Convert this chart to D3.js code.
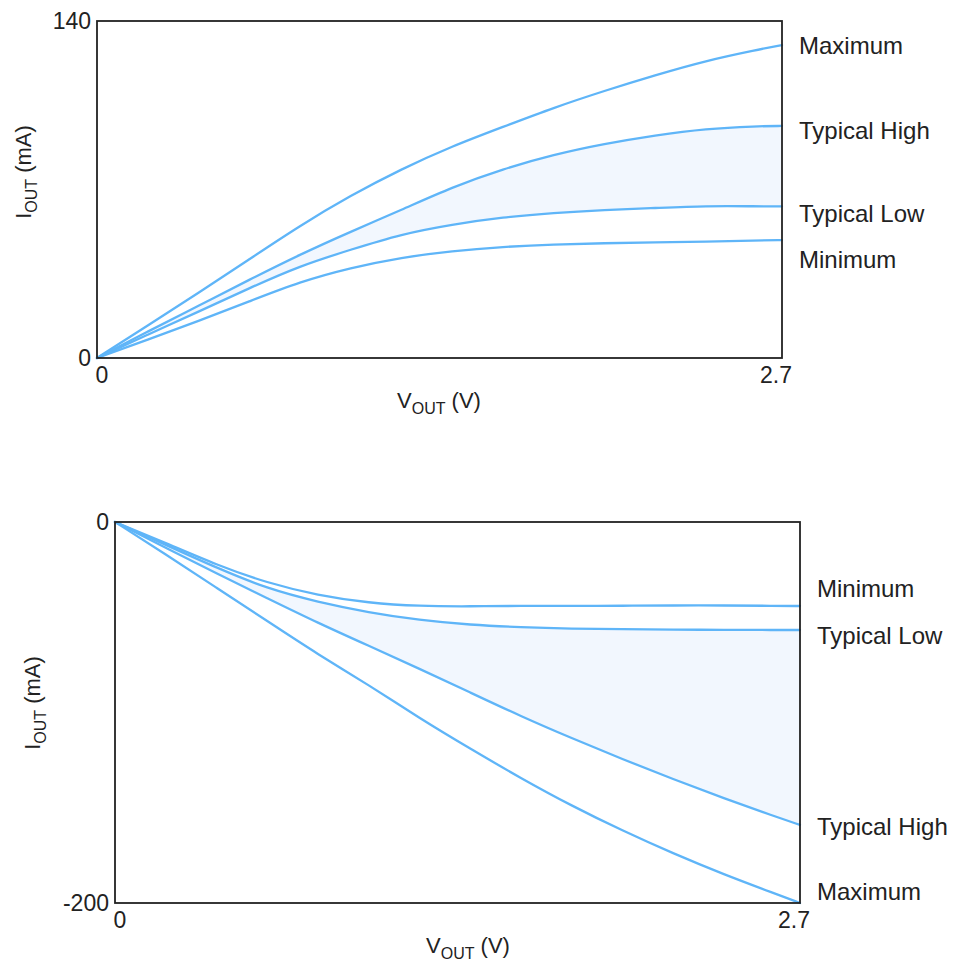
<!DOCTYPE html>
<html>
<head>
<meta charset="utf-8">
<title>IOUT vs VOUT</title>
<script src="https://d3js.org/d3.v7.min.js"></script>
<style>
    body { margin: 0; background: #fff; }
    svg text { font-family: "Liberation Sans", Arial, sans-serif; fill: #222; }
</style>
</head>
<body>
<svg id="chart" width="955" height="966"></svg>
<script>
    // sample voltages (V), shared by all curves
    const vout = [0, 0.2, 0.4, 0.6, 0.8, 1.0, 1.2, 1.4, 1.6, 1.8, 2.0, 2.2, 2.4, 2.6, 2.7];

    // source current (mA), top panel
    const srcMaximum     = [0, 13.5, 27, 41, 55, 67.5, 78.5, 88, 96, 104, 111, 117.5, 123.5, 128, 130];
    const srcTypicalHigh = [0, 11, 21.7, 32.5, 43, 52.5, 61.5, 71, 78.5, 84.5, 89, 92.5, 95.3, 96.3, 96.4];
    const srcTypicalLow  = [0, 9.7, 19.2, 29, 38.3, 45, 51.5, 55.5, 58.5, 60.3, 61.5, 62.3, 63.2, 63, 63];
    const srcMinimum     = [0, 7.6, 15.4, 23.5, 31.7, 37.5, 41.8, 44.5, 46.2, 47.2, 47.7, 48, 48.3, 48.8, 49];

    // sink current (mA), bottom panel
    const snkMaximum     = [0, -17, -34.5, -52, -69.5, -85.5, -103, -119, -134.5, -149, -162, -174, -185, -195, -200];
    const snkTypicalHigh = [0, -13.5, -27, -40, -53, -65, -77, -89.5, -102, -113.5, -124.5, -135, -145, -154.5, -159];
    const snkTypicalLow  = [0, -12, -24, -35, -42, -47.5, -51.5, -54, -55.3, -56, -56.3, -56.5, -56.6, -56.7, -56.7];
    const snkMinimum     = [0, -11, -22.5, -32, -38.5, -42.5, -44.2, -44.3, -44, -44, -44, -43.8, -43.8, -44, -44.1];

    const seriesNames = ["Maximum", "Typical High", "Typical Low", "Minimum"];
    // where each curve name sits on the right (mA), same order as seriesNames
    const srcLabelAt = [129.8, 94.3, 60, 40.7];
    const snkLabelAt = [-194, -160, -59.8, -34.9];

    const xTicks = [0, 2.7];
    const lineColor = "#5fb5f8";
    const bandColor = "#f2f7fe";

    const svg = d3.select("#chart");

    function drawPanel(p) {
        const x = d3.scaleLinear().domain([0, 2.7]).range([p.left, p.right]);
        const y = d3.scaleLinear().domain(p.yDomain).range([p.bottom, p.top]);
        const g = svg.append("g");

        const line = d3.line().x(d => x(d[0])).y(d => y(d[1])).curve(d3.curveBasis);
        const pts = arr => vout.map((v, i) => [v, arr[i]]);

        // shaded band between typical high and typical low
        const area = d3.area()
            .x((d, i) => x(vout[i]))
            .y0(d => y(d[0]))
            .y1(d => y(d[1]))
            .curve(d3.curveBasis);
        g.append("path")
            .datum(vout.map((v, i) => [p.series[1][i], p.series[2][i]]))
            .attr("d", area)
            .attr("fill", bandColor);

        p.series.forEach(s => {
            g.append("path")
                .datum(pts(s))
                .attr("d", line)
                .attr("fill", "none")
                .attr("stroke", lineColor)
                .attr("stroke-width", 2.3)
                .attr("stroke-linecap", "round");
        });

        // frame
        g.append("rect")
            .attr("x", p.left).attr("y", p.top)
            .attr("width", p.right - p.left).attr("height", p.bottom - p.top)
            .attr("fill", "none")
            .attr("stroke", "#222")
            .attr("stroke-width", 1.8);

        // y ticks
        p.yDomain.forEach(v => {
            g.append("text")
                .attr("x", p.left - 6)
                .attr("y", y(v))
                .attr("dy", "0.35em")
                .attr("text-anchor", "end")
                .attr("font-size", "23px")
                .text(v);
        });

        // x ticks
        xTicks.forEach(v => {
            g.append("text")
                .attr("x", v === 0 ? x(v) + 5 : x(v) - 6)
                .attr("y", p.bottom + 25)
                .attr("text-anchor", "middle")
                .attr("font-size", "23px")
                .text(v);
        });

        // curve names
        seriesNames.forEach((n, i) => {
            g.append("text")
                .attr("x", p.right + 17)
                .attr("y", y(p.labelAt[i]))
                .attr("dy", "0.35em")
                .attr("font-size", "24px")
                .text(n);
        });

        // axis titles
        const xt = g.append("text")
            .attr("x", p.xTitleX)
            .attr("y", p.bottom + 50)
            .attr("text-anchor", "middle")
            .attr("font-size", "22px");
        xt.append("tspan").text("V");
        xt.append("tspan").attr("font-size", "16px").attr("dy", 6).text("OUT");
        xt.append("tspan").attr("dy", -6).text(" (V)");

        const yt = g.append("text")
            .attr("transform", `translate(${p.yTitleX},${p.yTitleY}) rotate(-90)`)
            .attr("text-anchor", "middle")
            .attr("font-size", "22px");
        yt.append("tspan").text("I");
        yt.append("tspan").attr("font-size", "16px").attr("dy", 6).text("OUT");
        yt.append("tspan").attr("dy", -6).text(" (mA)");
    }

    drawPanel({
        left: 97, right: 782, top: 21, bottom: 358,
        yDomain: [0, 140],
        series: [srcMaximum, srcTypicalHigh, srcTypicalLow, srcMinimum],
        labelAt: srcLabelAt,
        xTitleX: 439, yTitleX: 31, yTitleY: 172
    });

    drawPanel({
        left: 115, right: 800, top: 522, bottom: 903,
        yDomain: [-200, 0],
        series: [snkMaximum, snkTypicalHigh, snkTypicalLow, snkMinimum],
        labelAt: snkLabelAt,
        xTitleX: 468, yTitleX: 40, yTitleY: 703
    });
</script>
</body>
</html>
